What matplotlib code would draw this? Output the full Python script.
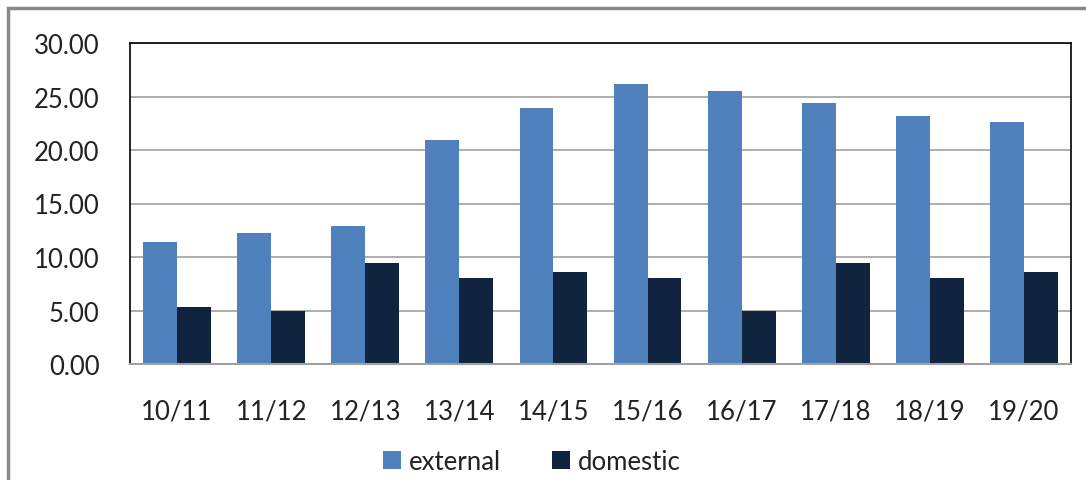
import matplotlib
matplotlib.use("Agg")
import matplotlib.pyplot as plt
import numpy as np
from matplotlib.patches import Rectangle

plt.rcParams['font.family'] = ['Lato', 'DejaVu Sans']

years = ["10/11", "11/12", "12/13", "13/14", "14/15",
         "15/16", "16/17", "17/18", "18/19", "19/20"]
external = [11.4, 12.2, 12.9, 20.9, 23.9, 26.2, 25.5, 24.4, 23.2, 22.6]
domestic = [5.3, 5.0, 9.4, 8.0, 8.6, 8.0, 5.0, 9.4, 8.0, 8.6]

W, H = 1086, 481
fig = plt.figure(figsize=(W / 100, H / 100), dpi=100)
ax = fig.add_axes([130 / W, 1 - 365 / H, (1071 - 130) / W, (365 - 44) / H])

x = np.arange(len(years))
bw = 0.36
ax.bar(x - bw / 2, external, bw, color="#4F81BD", label="external", zorder=3)
ax.bar(x + bw / 2, domestic, bw, color="#10243F", label="domestic", zorder=3)

ax.set_xlim(-0.5, len(years) - 0.5)
ax.set_ylim(0, 30)
ax.set_yticks(np.arange(0, 31, 5))
ax.set_yticklabels([f"{v:.2f}" for v in np.arange(0, 31, 5)])
ax.set_xticks(x)
ax.set_xticklabels(years)
ax.tick_params(axis="both", length=0, labelsize=18.5, colors="#222222")
ax.tick_params(axis="y", pad=22)
ax.tick_params(axis="x", pad=25)
ax.yaxis.grid(True, color="#A0A0A0", linewidth=1.2, zorder=0)

for s in ["left", "top", "right"]:
    ax.spines[s].set_color("black")
    ax.spines[s].set_linewidth(1.2)
ax.spines["bottom"].set_color("#A0A0A0")
ax.spines["bottom"].set_linewidth(1.5)
ax.spines["bottom"].set_zorder(4)

fig.legend(loc="center", bbox_to_anchor=(532 / W, 1 - 462 / H), ncol=2,
           frameon=False, fontsize=18.5, handlelength=0.7, handleheight=0.7,
           handletextpad=0.3, columnspacing=2.0, labelcolor="#222222")

# outer chart border (cut off at right and bottom)
fig.patches.append(Rectangle((8 / W, -0.1), 1.2, 1 - 9 / H + 0.1,
                             transform=fig.transFigure, fill=False,
                             edgecolor="#888888", linewidth=2.5))

fig.savefig("out.png", dpi=100)
